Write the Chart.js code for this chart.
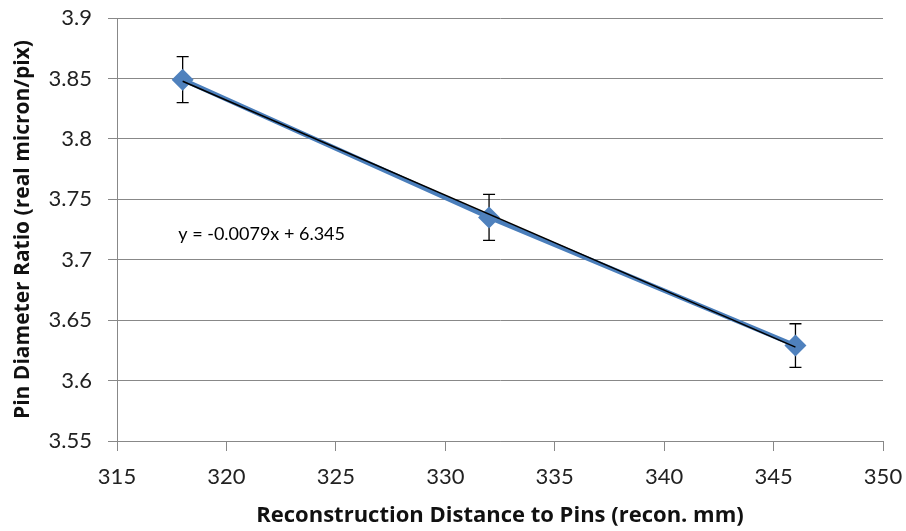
<!DOCTYPE html>
<html>
<head>
<meta charset="utf-8">
<script src="https://cdn.jsdelivr.net/npm/chart.js@4.4.0/dist/chart.umd.min.js"></script>
<style>
  html, body { margin: 0; padding: 0; background: #fff; }
  #wrap { width: 906px; height: 531px; }
</style>
</head>
<body>
<div id="wrap"><canvas id="pinGraph" width="906" height="531"></canvas></div>
<script>
// values
var distance = [318, 332, 346];
var ratio = [3.849, 3.735, 3.629];
var ratioErr = [0.019, 0.019, 0.018];
var trendLabel = "y = -0.0079x + 6.345";

// least squares fit, like the excel trendline
function fitLine(xs, ys) {
    var n = xs.length, sx = 0, sy = 0, sxx = 0, sxy = 0;
    for (var i = 0; i < n; i++) {
        sx += xs[i]; sy += ys[i];
        sxx += xs[i] * xs[i]; sxy += xs[i] * ys[i];
    }
    var m = (n * sxy - sx * sy) / (n * sxx - sx * sx);
    return { m: m, b: (sy - m * sx) / n };
}

var fit = fitLine(distance, ratio);
var xFirst = distance[0], xLast = distance[distance.length - 1];

var points = [];
for (var i in distance) {
    points.push({ x: distance[i], y: ratio[i] });
}

var errorBars = {
    id: 'errorBars',
    beforeDatasetsDraw: function(chart) {
        var ctx = chart.ctx;
        var xs = chart.scales.x, ys = chart.scales.y;
        ctx.save();
        ctx.strokeStyle = '#000';
        ctx.lineWidth = 1.3;
        for (var i = 0; i < distance.length; i++) {
            var px = xs.getPixelForValue(distance[i]);
            var top = ys.getPixelForValue(ratio[i] + ratioErr[i]);
            var bot = ys.getPixelForValue(ratio[i] - ratioErr[i]);
            ctx.beginPath();
            ctx.moveTo(px, top); ctx.lineTo(px, bot);
            ctx.moveTo(px - 6, top); ctx.lineTo(px + 6, top);
            ctx.moveTo(px - 6, bot); ctx.lineTo(px + 6, bot);
            ctx.stroke();
        }
        ctx.restore();
    },
    afterDatasetsDraw: function(chart) {
        var ctx = chart.ctx;
        ctx.save();
        ctx.fillStyle = '#000';
        ctx.font = '18px Lato';
        ctx.textBaseline = 'middle';
        ctx.fillText(trendLabel, chart.scales.x.getPixelForValue(317.8), chart.scales.y.getPixelForValue(3.721));
        ctx.restore();
    }
};

var ctx = document.getElementById('pinGraph');

var PinGraph = new Chart(ctx, {
    type: 'scatter',
    data: {
        datasets: [
            {
                label: 'trend',
                data: [
                    { x: xFirst, y: fit.m * xFirst + fit.b },
                    { x: xLast, y: fit.m * xLast + fit.b }
                ],
                showLine: true,
                borderColor: '#000',
                borderWidth: 1.5,
                pointRadius: 0,
                order: 0
            },
            {
                label: 'ratio',
                data: points,
                showLine: true,
                borderColor: '#4A7EBB',
                borderWidth: 4.5,
                backgroundColor: '#4F81BD',
                pointStyle: 'rectRot',
                pointRadius: 11,
                pointBorderWidth: 0,
                order: 1
            }
        ]
    },
    options: {
        responsive: false,
        animation: false,
        layout: { padding: { left: 0, right: 23, top: 18, bottom: 0 } },
        plugins: {
            legend: { display: false },
            tooltip: { enabled: false }
        },
        scales: {
            x: {
                type: 'linear',
                min: 315, max: 350,
                afterFit: function(scale) {
                    scale.height = 90;
                    scale.paddingLeft = 0;
                    scale.paddingRight = 0;
                },
                ticks: { stepSize: 5, color: '#222', font: { family: 'Lato', size: 22 }, padding: 13 },
                grid: { drawOnChartArea: false, drawTicks: true, tickLength: 10, color: '#888' },
                border: { color: '#888' },
                title: {
                    display: true,
                    text: 'Reconstruction Distance to Pins (recon. mm)',
                    color: '#111',
                    font: { family: 'Open Sans', size: 22, weight: 'bold' },
                    padding: { top: 4, bottom: 2 }
                }
            },
            y: {
                min: 3.55, max: 3.9,
                afterFit: function(scale) {
                    scale.width = 117;
                    scale.paddingTop = 0;
                    scale.paddingBottom = 0;
                },
                ticks: {
                    stepSize: 0.05, color: '#222', padding: 16,
                    font: { family: 'Lato', size: 22 },
                    callback: function(v) { return Math.round(v * 100) / 100; }
                },
                grid: { color: '#888', tickLength: 9 },
                border: { color: '#888' },
                title: {
                    display: true,
                    text: 'Pin Diameter Ratio (real micron/pix)',
                    color: '#111',
                    font: { family: 'Open Sans', size: 21, weight: 'bold' },
                    padding: { top: 10, bottom: 0 }
                }
            }
        }
    },
    plugins: [errorBars]
});
</script>
</body>
</html>
